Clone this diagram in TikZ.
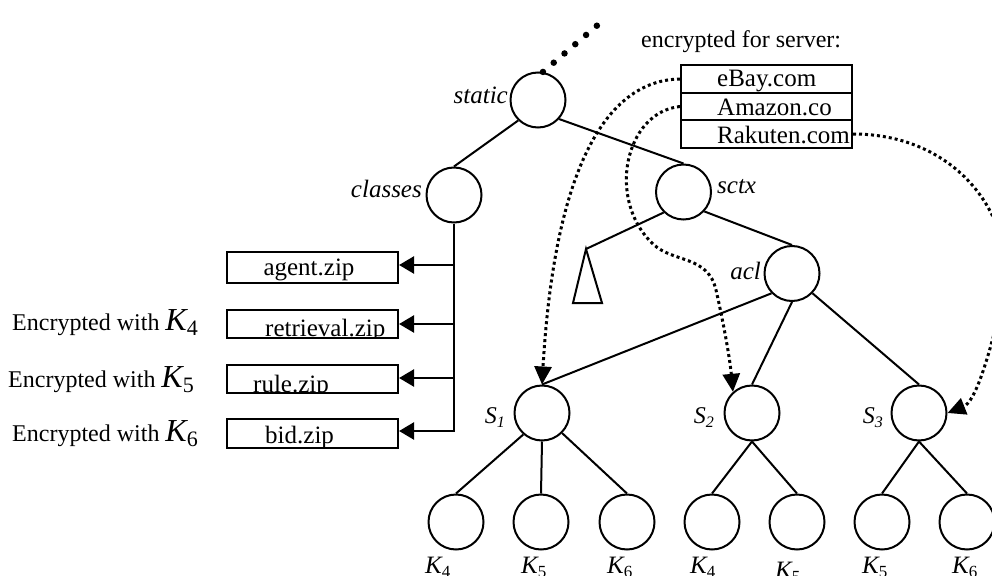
\documentclass[tikz,border=0pt]{standalone}
\usepackage{fontspec}
\setmainfont{Liberation Serif}
\usetikzlibrary{arrows.meta}
% key labels: large italic K with an upright subscript
\newcommand\keyl[1]{{\fontsize{32}{36}\selectfont\itshape K}\raisebox{-5pt}{\fontsize{22}{24}\selectfont #1}}
\newcommand\keyb[1]{{\fontsize{25}{28}\selectfont\itshape K}\raisebox{-4pt}{\fontsize{17}{20}\selectfont #1}}
% server labels: italic S with italic subscript
\newcommand\slab[1]{{\fontsize{24}{28}\selectfont\itshape S\raisebox{-4pt}{\fontsize{16}{18}\selectfont #1}}}

\begin{document}
\begin{tikzpicture}[x=1pt,y=-1pt,
  tnode/.style={circle,draw,line width=2pt,minimum size=55pt,inner sep=0pt},
  edge/.style={line width=2pt},
  lbl/.style={inner sep=0pt,font=\fontsize{25}{30}\selectfont\itshape},
  txt/.style={inner sep=0pt,font=\fontsize{25}{30}\selectfont},
  note/.style={inner sep=0pt,font=\fontsize{24}{28}\selectfont},
  filebox/.style={draw,line width=2.1pt,minimum width=171pt,inner sep=0pt},
  rowbox/.style={draw,line width=2pt,minimum width=171pt,minimum height=27.5pt,inner sep=0pt},
  fetch/.style={line width=2.6pt,-{Triangle[length=15pt,width=17pt]}},
  link/.style={line width=3pt,dash pattern=on 3pt off 3pt,-{Triangle[length=18pt,width=17pt]}},
]
\useasboundingbox (0,0) rectangle (992,575);
\fill[white] (0,0) rectangle (992,575);

% ---- tree nodes ----
\node[tnode] (static)  at (538,100) {};
\node[tnode] (classes) at (454,195) {};
\node[tnode] (sctx)    at (683.5,192) {};
\node[tnode] (acl)     at (792,273.5) {};
\node[tnode] (S1) at (542,413) {};
\node[tnode] (S2) at (752,413) {};
\node[tnode] (S3) at (919,413) {};
\node[tnode] (k1) at (456,522) {};
\node[tnode] (k2) at (541,522) {};
\node[tnode] (k3) at (627,522) {};
\node[tnode] (k4) at (712,522) {};
\node[tnode] (k5) at (797,522) {};
\node[tnode] (k6) at (882,522) {};
\node[tnode] (k7) at (967,522) {};

% ---- node labels ----
\node[lbl,anchor=base east] (lstatic)  at (508,104) {static};
\node[lbl,anchor=base east] (lclasses) at (422,197) {classes};
\node[lbl,anchor=base west] (lsctx)    at (717,193) {sctx};
\node[lbl,anchor=base east] (lacl)     at (761,279) {acl};
\node[inner sep=0pt,anchor=base east] (lS1) at (505,423) {\slab{1}};
\node[inner sep=0pt,anchor=base east] (lS2) at (714,423) {\slab{2}};
\node[inner sep=0pt,anchor=base east] (lS3) at (883,423) {\slab{3}};
\node[inner sep=0pt,anchor=base west] (lk1) at (425,573) {\keyb{4}};
\node[inner sep=0pt,anchor=base west] (lk2) at (521,573) {\keyb{5}};
\node[inner sep=0pt,anchor=base west] (lk3) at (607,573) {\keyb{6}};
\node[inner sep=0pt,anchor=base west] (lk4) at (690,573) {\keyb{4}};
\node[inner sep=0pt,anchor=base west] (lk5) at (775,578) {\keyb{5}};
\node[inner sep=0pt,anchor=base west] (lk6) at (862,573) {\keyb{5}};
\node[inner sep=0pt,anchor=base west] (lk7) at (952,573) {\keyb{6}};

% ---- subtree placeholder under sctx ----
\coordinate (tri) at (586,249);
\draw[line width=2pt,line join=miter] (tri) -- (573,303) -- (602,303) -- cycle;

% ---- tree edges ----
\draw[edge] (static.226) -- (classes.north);
\draw[edge] (static.-42) -- (sctx.north);
\draw[edge] (sctx.-43) -- (acl.north);
\draw[edge] (sctx.-134) -- (tri);
\draw[edge] (acl.224) -- (S1.north);
\draw[edge] (acl.south) -- (S2.north);
\draw[edge] (acl.-44) -- (S3.north);
\draw[edge] (S1.229) -- (k1.north);
\draw[edge] (S1.south) -- (k2.north);
\draw[edge] (S1.-45) -- (k3.north);
\draw[edge] (S2.south) -- (k4.north);
\draw[edge] (S2.south) -- (k5.north);
\draw[edge] (S3.south) -- (k6.north);
\draw[edge] (S3.south) -- (k7.north);

% ---- parent path continues upwards ----
\coordinate (dotend) at (607,17);
\draw[line width=6.5pt,line cap=round,dash pattern=on 0pt off 14.2pt] (static.80) -- (dotend);

% ---- archive files under classes ----
\node[filebox,minimum height=31pt] (agent) at (312.5,267.5) {};
\node[filebox,minimum height=28pt] (retr)  at (312.5,324) {};
\node[filebox,minimum height=28pt] (rule)  at (312.5,379) {};
\node[filebox,minimum height=29pt] (bid)   at (312.5,433.5) {};
\node[txt,anchor=base] (tagent) at (309,275) {agent.zip};
\begin{scope}
  \clip ([shift={(1pt,-1pt)}]retr.north west) rectangle ([shift={(-1pt,1pt)}]retr.south east);
  \node[txt,anchor=base west] (tretr) at (265,336) {retrieval.zip};
\end{scope}
\begin{scope}
  \clip ([shift={(1pt,-1pt)}]rule.north west) rectangle ([shift={(-1pt,1pt)}]rule.south east);
  \node[txt,anchor=base west] (trule) at (253,392) {rule.zip};
\end{scope}
\begin{scope}
  \clip ([shift={(1pt,-1pt)}]bid.north west) rectangle ([shift={(-1pt,1pt)}]bid.south east);
  \node[txt,anchor=base west] (tbid) at (265,443) {bid.zip};
\end{scope}

\coordinate (tb) at (454,432.3);
\draw[line width=2.3pt] (classes.south) -- (tb);
\coordinate (a1) at (454,265);
\coordinate (a2) at (454,324);
\coordinate (a3) at (454,378);
\coordinate (a4) at (454,431);
\draw[fetch] (a1) -- (a1 -| agent.east);
\draw[fetch] (a2) -- (a2 -| retr.east);
\draw[fetch] (a3) -- (a3 -| rule.east);
\draw[fetch] (a4) -- (a4 -| bid.east);

\node[note,anchor=base west] (enc4) at (12,330) {Encrypted with \keyl{4}};
\node[note,anchor=base west] (enc5) at (8,387)  {Encrypted with \keyl{5}};
\node[note,anchor=base west] (enc6) at (12,441) {Encrypted with \keyl{6}};

% ---- server table ----
\node[note,anchor=base west] (hdr) at (641,48) {encrypted for server:};
\node[rowbox] (ebay)    at (766.5,79) {};
\node[rowbox] (amazon)  at (766.5,106.5) {};
\node[rowbox] (rakuten) at (766.5,134) {};
\node[txt,anchor=base west] (tebay)    at (717,87)  {eBay.com};
\node[txt,anchor=base west] (tamazon)  at (717,115) {Amazon.co};
\node[txt,anchor=base west] (trakuten) at (717,143) {Rakuten.com};

% ---- server links ----
\draw[link] (ebay.west) .. controls (610,80) and (555,160) .. (S1.north);
\draw[link] (amazon.west) .. controls (625,112) and (606,200) .. (653,244)
  .. controls (673,263) and (708,255) .. (716,290)
  .. controls (724,325) and (730,360) .. (S2.132);
\draw[link] (rakuten.east) .. controls (965,134) and (1025,230) .. (1000,310)
  .. controls (988,360) and (975,402) .. (S3.east);
\end{tikzpicture}
\end{document}
